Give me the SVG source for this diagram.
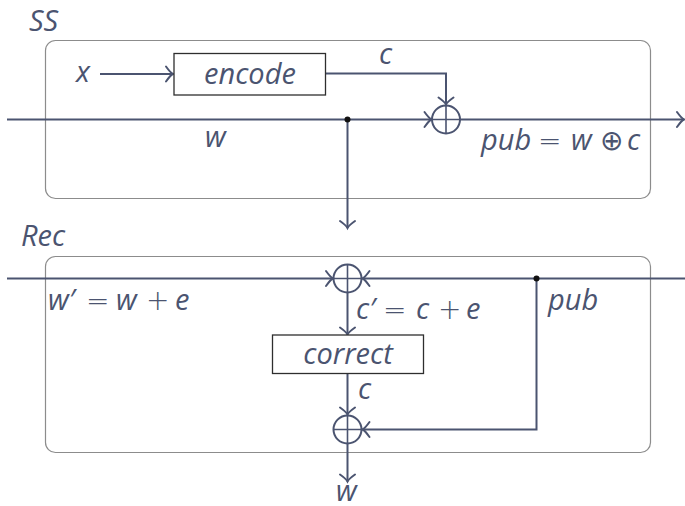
<svg xmlns="http://www.w3.org/2000/svg" width="685" height="506" viewBox="0 0 685 506">
<defs>
<style>
.frame{fill:none;stroke:#8c8c8c;stroke-width:1.2}
.box{fill:#ffffff;stroke:#2e2e2e;stroke-width:1.3}
.wire{fill:none;stroke:#4b5470;stroke-width:2}
.xor circle{fill:none;stroke:#4b5470;stroke-width:2}
.xor path{stroke:#4b5470;stroke-width:1.6}
.lbl{font-family:"Open Sans","Liberation Sans",sans-serif;font-style:italic;font-size:29px;fill:#4b5470}
.op{font-family:"DejaVu Sans",sans-serif;font-style:normal;font-weight:200;font-size:28px;fill:#4b5470}
.dot{fill:#111}
</style>
<marker id="arr" viewBox="-10 -10 20 20" markerWidth="20" markerHeight="20" markerUnits="userSpaceOnUse" orient="auto" refX="0" refY="0">
<path d="M-7,-7.5 Q-2.5,-1.2 0,0 Q-2.5,1.2 -7,7.5" fill="none" stroke="#4b5470" stroke-width="2" stroke-linecap="round"/>
</marker>
</defs>
<rect width="685" height="506" fill="#ffffff"/>

<g id="ss-frame">
<rect class="frame" x="45.5" y="40.5" width="605" height="158" rx="10"/>
<text class="lbl" x="29" y="31">SS</text>
</g>
<g id="rec-frame">
<rect class="frame" x="45.5" y="256.5" width="605" height="196" rx="10"/>
<text class="lbl" x="21" y="246">Rec</text>
</g>

<g id="connectors">
<path class="wire" d="M100,74 H173" marker-end="url(#arr)"/>
<path class="wire" d="M326,73.5 H446 V104.5" marker-end="url(#arr)"/>
<path class="wire" d="M7,119.5 H431.5" marker-end="url(#arr)"/>
<path class="wire" d="M460,119.5 H684" marker-end="url(#arr)"/>
<path class="wire" d="M347.5,119.5 V228" marker-end="url(#arr)"/>
<path class="wire" d="M7,278.5 H333" marker-end="url(#arr)"/>
<path class="wire" d="M685,278.5 H362.5" marker-end="url(#arr)"/>
<path class="wire" d="M347.5,292.5 V334.5" marker-end="url(#arr)"/>
<path class="wire" d="M347.5,373.5 V414.5" marker-end="url(#arr)"/>
<path class="wire" d="M536.5,278.5 V429.5 H362.5" marker-end="url(#arr)"/>
<path class="wire" d="M347.5,443.5 V481.5" marker-end="url(#arr)"/>
</g>

<g id="encode">
<rect class="box" x="174" y="53.5" width="151.5" height="41.5"/>
<text class="lbl" x="250" y="84" text-anchor="middle">encode</text>
</g>
<g id="correct">
<rect class="box" x="272.5" y="335" width="151" height="38.5"/>
<text class="lbl" x="348" y="364" text-anchor="middle">correct</text>
</g>

<g id="xor-ss" class="xor">
<circle cx="446" cy="119.5" r="14"/>
<path d="M432,119.5 H460 M446,105.5 V133.5"/>
</g>
<g id="xor-rec-top" class="xor">
<circle cx="347.5" cy="278.5" r="14"/>
<path d="M333.5,278.5 H361.5 M347.5,264.5 V292.5"/>
</g>
<g id="xor-rec-bottom" class="xor">
<circle cx="347.5" cy="429.5" r="14"/>
<path d="M333.5,429.5 H361.5 M347.5,415.5 V443.5"/>
</g>
<g id="split-w">
<circle class="dot" cx="347.5" cy="119.5" r="3"/>
</g>
<g id="split-pub">
<circle class="dot" cx="536.5" cy="278.5" r="3"/>
</g>

<g id="labels">
<text class="lbl" x="76" y="82">x</text>
<text class="lbl" x="379" y="64">c</text>
<text class="lbl" x="205" y="147">w</text>
<text class="lbl" y="150"><tspan x="481">pub</tspan><tspan class="op" x="538">=</tspan><tspan x="571">w</tspan><tspan class="op" x="600" font-size="22">⊕</tspan><tspan x="627">c</tspan></text>
<text class="lbl" y="310"><tspan x="48">w′</tspan><tspan class="op" x="86">=</tspan><tspan x="116">w</tspan><tspan class="op" x="146">+</tspan><tspan x="175">e</tspan></text>
<text class="lbl" y="319"><tspan x="356">c′</tspan><tspan class="op" x="383">=</tspan><tspan x="416">c</tspan><tspan class="op" x="438">+</tspan><tspan x="466">e</tspan></text>
<text class="lbl" x="548" y="310">pub</text>
<text class="lbl" x="358" y="399">c</text>
<text class="lbl" x="336" y="501">w</text>
</g>
</svg>
